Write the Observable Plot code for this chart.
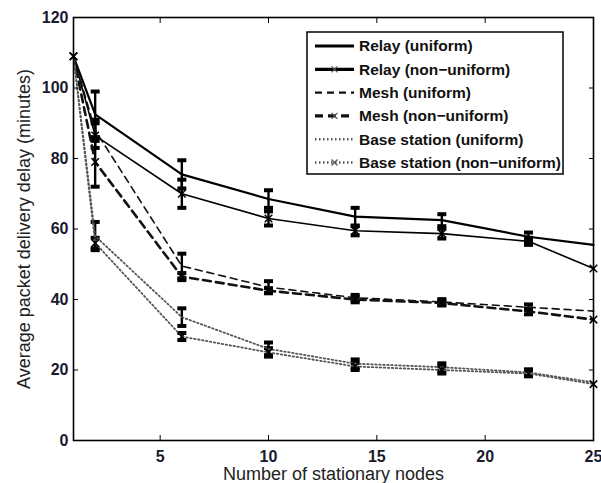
<!DOCTYPE html>
<html>
<head>
<meta charset="utf-8">
<script src="https://cdn.jsdelivr.net/npm/d3@7"></script>
<script src="https://cdn.jsdelivr.net/npm/@observablehq/plot@0.6"></script>
<style>
  html, body { margin: 0; padding: 0; background: #fff; }
  #chart svg { display: block; }
  .tickbold text { font-weight: bold; }
</style>
</head>
<body>
<div id="chart"></div>
<script>
// ---- data ----
const xs = [1, 2, 6, 10, 14, 18, 22, 25];
const seriesNames = [
  "Relay (uniform)",
  "Relay (non\u2212uniform)",
  "Mesh (uniform)",
  "Mesh (non\u2212uniform)",
  "Base station (uniform)",
  "Base station (non\u2212uniform)"
];
const relayUniform        = [109, 92.5, 75.5, 68.5, 63.5, 62.5, 57.8, 55.5];
const relayUniformErr     = [0,   6.5,  4,    2.5,  2.5,  1.7,  1.2,  0];
const relayNonUniform     = [109, 86.5, 70,   63,   59.5, 58.7, 56.5, 48.8];
const relayNonUniformErr  = [0,   3.5,  4,    2,    1.3,  1.4,  1,    0];
const meshUniform         = [109, 88,   49.5, 43.5, 40.5, 39.3, 37.8, 36.7];
const meshUniformErr      = [0,   3,    3.5,  1.7,  0.8,  0.8,  0.8,  0];
const meshNonUniform      = [109, 79,   46.5, 42.5, 40,   39,   36.6, 34.3];
const meshNonUniformErr   = [0,   7,    1,    0.7,  0.8,  0.7,  0.8,  0];
const baseUniform         = [109, 58,   35,   26,   21.8, 20.8, 19.3, 16.5];
const baseUniformErr      = [0,   4,    2.5,  1.8,  1.2,  1.1,  0.9,  0];
const baseNonUniform      = [109, 56,   29.5, 25,   21,   20,   19,   16];
const baseNonUniformErr   = [0,   1.5,  1,    1.2,  1,    1,    0.8,  0];
const xTicks = [5, 10, 15, 20, 25];
const yTicks = [0, 20, 40, 60, 80, 100, 120];
const xTitle = "Number of stationary nodes";
const yTitle = "Average packet delivery delay (minutes)";

// ---- build table ----
const values = [relayUniform, relayNonUniform, meshUniform, meshNonUniform, baseUniform, baseNonUniform];
const errors = [relayUniformErr, relayNonUniformErr, meshUniformErr, meshNonUniformErr, baseUniformErr, baseNonUniformErr];
const rows = [];
seriesNames.forEach((s, i) => xs.forEach((x, j) => rows.push({series: s, idx: i, x, y: values[i][j], e: errors[i][j]})));
const errRows = rows.filter(d => d.e > 0);

// ---- styles (not data) ----
const styles = [
  {stroke: "#000", strokeWidth: 2.2, dash: null, marker: false, legendWidth: 3.2},
  {stroke: "#000", strokeWidth: 1.6, dash: null, marker: true, legendWidth: 3.2},
  {stroke: "#111", strokeWidth: 1.6, dash: "7,5", marker: false, legendWidth: 2.2},
  {stroke: "#111", strokeWidth: 2.6, dash: "8,5", marker: true, legendWidth: 3.4},
  {stroke: "#555", strokeWidth: 1.8, dash: "1.5,2.5", marker: false, legendWidth: 2.4},
  {stroke: "#555", strokeWidth: 1.8, dash: "1.5,2.5", marker: true, legendWidth: 2.4}
];

const capSymbol = {
  draw(ctx, size) {
    const r = Math.sqrt(size / Math.PI);
    ctx.moveTo(-r, 0);
    ctx.lineTo(r, 0);
  }
};

const lineMarks = seriesNames.map((s, i) => Plot.line(rows.filter(d => d.idx === i), {
  x: "x", y: "y", stroke: styles[i].stroke, strokeWidth: styles[i].strokeWidth,
  strokeDasharray: styles[i].dash || undefined, curve: "linear"
}));
const markerRows = rows.filter(d => styles[d.idx].marker);

const font = "'Liberation Sans', Arial, Helvetica, sans-serif";

const svg = Plot.plot({
  width: 601,
  height: 483,
  marginLeft: 73,
  marginRight: 8,
  marginTop: 17,
  marginBottom: 43,
  style: {fontFamily: font, background: "#fff", color: "#000"},
  x: {domain: [1, 25]},
  y: {domain: [0, 120]},
  marks: [
    // error bars
    Plot.ruleX(errRows, {x: "x", y1: d => d.y - d.e, y2: d => d.y + d.e, stroke: "#000", strokeWidth: 2.4}),
    Plot.dot(errRows, {x: "x", y: d => d.y + d.e, symbol: capSymbol, r: 4.5, stroke: "#000", strokeWidth: 4, fill: "none"}),
    Plot.dot(errRows, {x: "x", y: d => d.y - d.e, symbol: capSymbol, r: 4.5, stroke: "#000", strokeWidth: 4, fill: "none"}),
    ...lineMarks,
    Plot.dot(markerRows, {x: "x", y: "y", symbol: "times", r: 3.5, stroke: "#000", strokeWidth: 1.5}),
    // axes
    Plot.frame({stroke: "#000", strokeWidth: 1.6}),
    Plot.axisX({ticks: xTicks, tickSize: 0, tickPadding: 10, fontSize: 16, fontWeight: "bold", className: "tickbold", label: null, fill: "#1a1a2e"}),
    Plot.axisX({ticks: xTicks, tickSize: -5, tickFormat: () => "", label: null}),
    Plot.axisX({ticks: xTicks, anchor: "top", tickSize: -5, tickFormat: () => "", label: null}),
    Plot.axisY({ticks: yTicks, tickSize: 0, tickPadding: 5, fontSize: 16, fontWeight: "bold", className: "tickbold", label: null, fill: "#1a1a2e"}),
    Plot.axisY({ticks: yTicks, tickSize: -5, tickFormat: () => "", label: null}),
    Plot.axisY({ticks: yTicks, anchor: "right", tickSize: -5, tickFormat: () => "", label: null}),
    Plot.text([xTitle], {text: d => d, frameAnchor: "bottom", dy: 34, lineAnchor: "middle", textAnchor: "middle", fontSize: 18, fill: "#222"}),
    Plot.text([yTitle], {text: d => d, frameAnchor: "left", dx: -49, rotate: -90, lineAnchor: "middle", textAnchor: "middle", fontSize: 18, fill: "#222"})
  ]
});

// ---- legend ----
const g = d3.select(svg).append("g").attr("font-family", font).attr("text-anchor", "start");
const lx = 307, ly = 32, lw = 256, lh = 142, rowH = 23.3, firstRow = 46;
g.append("rect").attr("x", lx).attr("y", ly).attr("width", lw).attr("height", lh)
  .attr("fill", "#fff").attr("stroke", "#000").attr("stroke-width", 1.5);
seriesNames.forEach((s, i) => {
  const yy = firstRow + i * rowH;
  const st = styles[i];
  g.append("line").attr("x1", 315).attr("x2", 354).attr("y1", yy).attr("y2", yy)
    .attr("stroke", st.stroke).attr("stroke-width", st.legendWidth)
    .attr("stroke-dasharray", st.dash);
  if (st.marker) {
    const m = 3, cx = 334.5;
    g.append("path").attr("d", `M${cx - m},${yy - m}L${cx + m},${yy + m}M${cx - m},${yy + m}L${cx + m},${yy - m}`)
      .attr("stroke", "#555").attr("stroke-width", 1.2);
  }
  g.append("text").attr("x", 359).attr("y", yy).attr("dy", "0.35em").attr("text-anchor", "start")
    .attr("font-size", 15.5).attr("font-weight", "bold").attr("fill", "#111").text(s);
});

document.getElementById("chart").appendChild(svg);
</script>
</body>
</html>
